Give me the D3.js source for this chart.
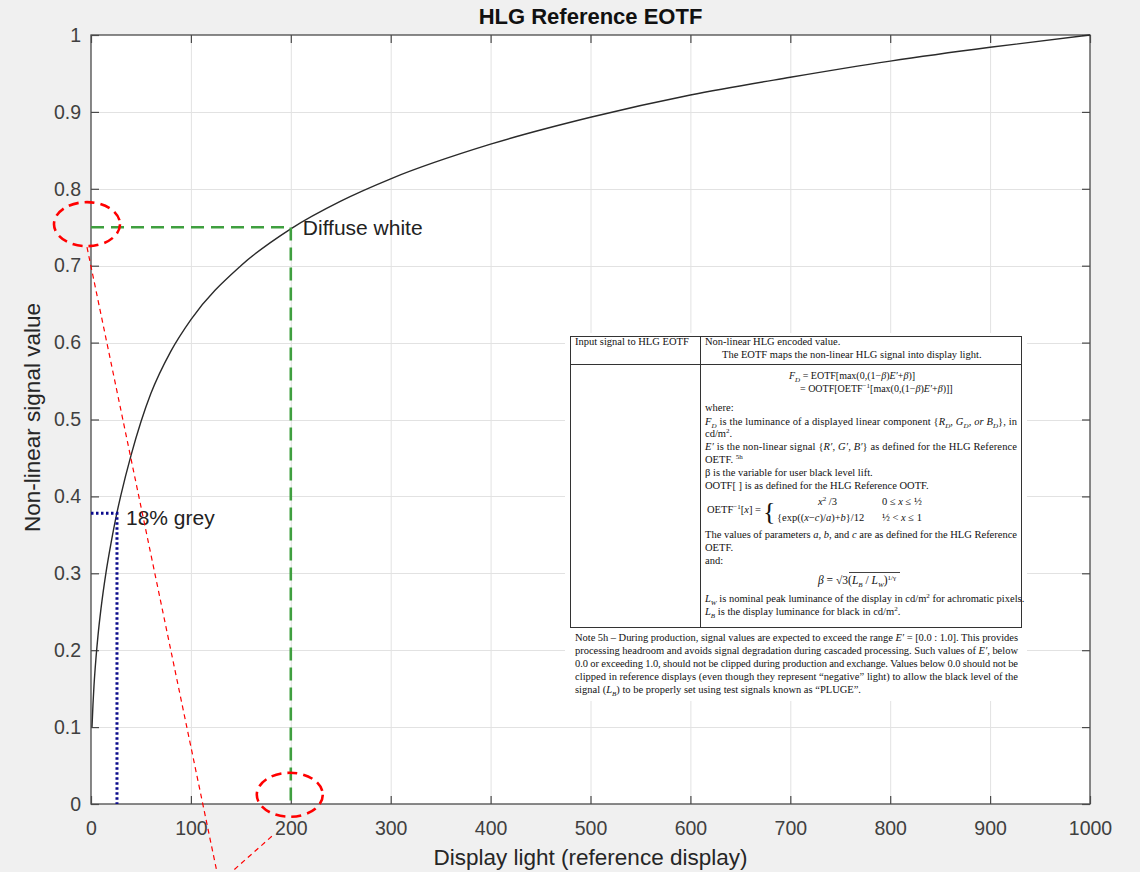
<!DOCTYPE html>
<html>
<head>
<meta charset="utf-8">
<script src="https://cdn.jsdelivr.net/npm/d3@7/dist/d3.min.js"></script>
<style>
  body { margin: 0; background: #f0f0f0; }
  svg { display: block; }
</style>
</head>
<body>
<div id="chart"></div>
<script>
// HLG signal vs display light
const lightNits = [1, 2, 3, 5, 7, 10, 15, 20, 26, 30, 40, 50, 60, 80, 100, 150, 200, 250, 300, 400, 500, 600, 700, 800, 900, 1000];
const signal = [0.10, 0.13, 0.154, 0.19, 0.219, 0.254, 0.301, 0.339, 0.379, 0.402, 0.453, 0.497, 0.534, 0.589, 0.630, 0.700, 0.748, 0.784, 0.813, 0.858, 0.893, 0.922, 0.945, 0.966, 0.984, 1.0];

const xTicks = [0, 100, 200, 300, 400, 500, 600, 700, 800, 900, 1000];
const yTicks = [0, 0.1, 0.2, 0.3, 0.4, 0.5, 0.6, 0.7, 0.8, 0.9, 1];
const yTickLabels = ['0', '0.1', '0.2', '0.3', '0.4', '0.5', '0.6', '0.7', '0.8', '0.9', '1'];

// reference points
const diffuseWhite = [200, 0.75];
const grey18 = [26, 0.378];

// red callouts (data coords) and their leader lines
const callouts = [[-4, 0.754], [199, 0.012]];
const leaders = [[[-4, 0.724], [126, -0.088]], [[181, -0.042], [141, -0.088]]];

const W = 1140, H = 872;
const x = d3.scaleLinear().domain([0, 1000]).range([91, 1090]);
const y = d3.scaleLinear().domain([0, 1]).range([804, 35]);

const svg = d3.select('#chart').append('svg')
  .attr('width', W).attr('height', H)
  .style('font-family', '"Liberation Sans", Arial, sans-serif');

svg.append('rect').attr('width', W).attr('height', H).attr('fill', '#f0f0f0');
svg.append('rect')
  .attr('x', x(0)).attr('y', y(1))
  .attr('width', x(1000) - x(0)).attr('height', y(0) - y(1))
  .attr('fill', '#fff');

// grid
const grid = svg.append('g').attr('stroke', '#e2e2e2').attr('stroke-width', 1);
grid.selectAll('.gx').data(xTicks.slice(1, -1)).join('line')
  .attr('x1', d => x(d) + 0.5).attr('x2', d => x(d) + 0.5)
  .attr('y1', y(1)).attr('y2', y(0));
grid.selectAll('.gy').data(yTicks.slice(1, -1)).join('line')
  .attr('y1', d => Math.round(y(d)) + 0.5).attr('y2', d => Math.round(y(d)) + 0.5)
  .attr('x1', x(0)).attr('x2', x(1000));

// axes, ticks inward
const tickCol = '#404040';
function styleAxis(g) {
  g.select('.domain').remove();
  g.selectAll('.tick line').attr('stroke', '#4a4a4a').attr('stroke-width', 1.2);
  g.selectAll('.tick text').attr('fill', tickCol).style('font-size', '19.5px')
    .style('font-family', '"Liberation Sans", Arial, sans-serif');
}
svg.append('g').attr('transform', `translate(0,${y(0)})`)
  .call(d3.axisBottom(x).tickValues(xTicks).tickSize(-8).tickPadding(17).tickFormat(d3.format('d')))
  .call(styleAxis);
svg.append('g').attr('transform', `translate(0,${y(1)})`)
  .call(d3.axisTop(x).tickValues(xTicks).tickSize(-8).tickFormat(''))
  .call(styleAxis);
svg.append('g').attr('transform', `translate(${x(0)},0)`)
  .call(d3.axisLeft(y).tickValues(yTicks).tickSize(-8).tickPadding(10).tickFormat((d, i) => yTickLabels[i]))
  .call(styleAxis);
svg.append('g').attr('transform', `translate(${x(1000)},0)`)
  .call(d3.axisRight(y).tickValues(yTicks).tickSize(-8).tickFormat(''))
  .call(styleAxis);

svg.append('rect')
  .attr('x', x(0)).attr('y', y(1))
  .attr('width', x(1000) - x(0)).attr('height', y(0) - y(1))
  .attr('fill', 'none').attr('stroke', '#4a4a4a').attr('stroke-width', 1.3);

// the curve
const pts = lightNits.map((v, i) => [v, signal[i]]);
svg.append('path')
  .datum(pts)
  .attr('fill', 'none').attr('stroke', '#2a2a2a').attr('stroke-width', 1.4)
  .attr('d', d3.line().x(d => x(d[0])).y(d => y(d[1])).curve(d3.curveMonotoneX));

// diffuse white guide
svg.append('path')
  .attr('d', `M${x(0)},${y(diffuseWhite[1])}H${x(diffuseWhite[0])}V${y(0)}`)
  .attr('fill', 'none').attr('stroke', '#3f9f3f').attr('stroke-width', 2.6)
  .attr('stroke-dasharray', '13,7');
svg.append('text').attr('x', x(diffuseWhite[0]) + 12).attr('y', y(diffuseWhite[1]) + 8)
  .attr('fill', '#222').style('font-size', '21px').text('Diffuse white');

// 18% grey guide
svg.append('path')
  .attr('d', `M${x(0)},${y(grey18[1])}H${x(grey18[0])}V${y(0)}`)
  .attr('fill', 'none').attr('stroke', '#0a0a8c').attr('stroke-width', 3)
  .attr('stroke-dasharray', '2.5,2.5');
svg.append('text').attr('x', x(grey18[0]) + 9).attr('y', y(grey18[1]) + 12)
  .attr('fill', '#222').style('font-size', '21px').text('18% grey');

// inset: table from the spec
const inset = svg.append('g').style('font-family', '"Liberation Serif", "Times New Roman", serif')
  .style('font-size', '10.5px').attr('fill', '#111');
inset.append('rect').attr('x', 565).attr('y', 333).attr('width', 462).attr('height', 368).attr('fill', '#fff');
const tbl = inset.append('g').attr('stroke', '#333').attr('stroke-width', 1).attr('fill', 'none');
tbl.append('rect').attr('x', 570.5).attr('y', 336.5).attr('width', 451).attr('height', 291);
tbl.append('line').attr('x1', 570.5).attr('x2', 1021.5).attr('y1', 364.5).attr('y2', 364.5);
tbl.append('line').attr('x1', 700.5).attr('x2', 700.5).attr('y1', 336.5).attr('y2', 627.5);

// rich text: segments [string, kind]; kinds: i italic, sub, sup, isub
function rich(x0, yb, segs, opts = {}) {
  const t = inset.append('text').attr('x', x0).attr('y', yb);
  if (opts.anchor) t.attr('text-anchor', opts.anchor);
  if (opts.size) t.style('font-size', opts.size);
  let off = 0;
  segs.forEach(s => {
    const str = typeof s === 'string' ? s : s[0];
    const kind = typeof s === 'string' ? '' : s[1];
    const ts = t.append('tspan').text(str);
    let target = 0;
    if (kind === 'sub' || kind === 'isub') target = 2.5;
    if (kind === 'sup') target = -4;
    if (target !== off) { ts.attr('dy', target - off); off = target; }
    if (kind === 'i' || kind === 'isub') ts.style('font-style', 'italic');
    if (kind === 'sub' || kind === 'isub' || kind === 'sup') ts.style('font-size', '7px');
  });
  if (opts.width) t.attr('textLength', opts.width).attr('lengthAdjust', 'spacing');
  return t;
}

rich(575, 345, ['Input signal to HLG EOTF']);
rich(705, 345, ['Non-linear HLG encoded value.']);
rich(722, 358, ['The EOTF maps the non-linear HLG signal into display light.']);
rich(789, 379, [['F', 'i'], ['D', 'isub'], ' = EOTF[max(0,(1\u2212', ['\u03B2', 'i'], ')', ['E\u2032', 'i'], '+', ['\u03B2', 'i'], ')]'], { size: '10px' });
rich(800, 392, ['= OOTF[OETF', ['\u22121', 'sup'], '[max(0,(1\u2212', ['\u03B2', 'i'], ')', ['E\u2032', 'i'], '+', ['\u03B2', 'i'], ')]]'], { size: '10px' });
rich(705, 411, ['where:']);
rich(705, 425, [['F', 'i'], ['D', 'isub'], ' is the luminance of a displayed linear component {', ['R', 'i'], ['D', 'isub'], ', ', ['G', 'i'], ['D', 'isub'], ', ', ['or B', 'i'], ['D', 'isub'], '}, in'], { width: 312 });
rich(705, 437, ['cd/m', ['2', 'sup'], '.']);
rich(705, 450, [['E\u2032', 'i'], ' is the non-linear signal {', ['R\u2032, G\u2032, B\u2032', 'i'], '} as defined for the HLG Reference'], { width: 312 });
rich(705, 463, ['OETF.  ', ['5h', 'sup']]);
rich(705, 476, ['\u03B2 is the variable for user black level lift.']);
rich(705, 489, ['OOTF[ ] is as defined for the HLG Reference OOTF.']);
rich(707, 513, ['OETF', ['\u22121', 'sup'], '[', ['x', 'i'], '] =']);
inset.append('text').attr('x', 763).attr('y', 520).style('font-size', '26px').style('font-weight', 300).text('{');
rich(818, 505, [['x', 'i'], ['2', 'sup'], ' /3']);
rich(882, 505, ['0 \u2264 ', ['x', 'i'], ' \u2264 \u00BD']);
rich(777, 521, ['{exp((', ['x', 'i'], '\u2212', ['c', 'i'], ')/', ['a', 'i'], ')+', ['b', 'i'], '}/12']);
rich(882, 521, ['\u00BD < ', ['x', 'i'], ' \u2264 1']);
rich(705, 538, ['The values of parameters ', ['a', 'i'], ', ', ['b', 'i'], ', and ', ['c', 'i'], ' are as defined for the HLG Reference'], { width: 312 });
rich(705, 551, ['OETF.']);
rich(705, 564, ['and:']);
rich(818, 584, [['\u03B2', 'i'], ' = \u221A3(', ['L', 'i'], ['B', 'isub'], ' / ', ['L', 'i'], ['W', 'isub'], ')', ['1/\u03B3', 'sup']], { size: '11.5px' });
inset.append('line').attr('x1', 849).attr('x2', 900).attr('y1', 572.5).attr('y2', 572.5)
  .attr('stroke', '#111').attr('stroke-width', 0.8);
rich(705, 602, [['L', 'i'], ['W', 'isub'], ' is nominal peak luminance of the display in cd/m', ['2', 'sup'], ' for achromatic pixels.']);
rich(705, 615, [['L', 'i'], ['B', 'isub'], ' is the display luminance for black in cd/m', ['2', 'sup'], '.']);

rich(575, 641, ['Note 5h \u2013 During production, signal values are expected to exceed the range ', ['E\u2032', 'i'], ' = [0.0 : 1.0]. This provides'], { width: 443 });
rich(575, 654, ['processing headroom and avoids signal degradation during cascaded processing. Such values of ', ['E\u2032', 'i'], ', below'], { width: 443 });
rich(575, 667, ['0.0 or exceeding 1.0, should not be clipped during production and exchange. Values below 0.0 should not be'], { width: 443 });
rich(575, 680, ['clipped in reference displays (even though they represent \u201Cnegative\u201D light) to allow the black level of the'], { width: 443 });
rich(575, 693, ['signal (', ['L', 'i'], ['B', 'isub'], ') to be properly set using test signals known as \u201CPLUGE\u201D.']);

// red callouts
const red = svg.append('g').attr('fill', 'none').attr('stroke', '#f00');
red.selectAll('ellipse').data(callouts).join('ellipse')
  .attr('cx', d => x(d[0])).attr('cy', d => y(d[1]))
  .attr('rx', 33).attr('ry', 22)
  .attr('stroke-width', 2.6).attr('stroke-dasharray', '10,6');
red.selectAll('line').data(leaders).join('line')
  .attr('x1', d => x(d[0][0])).attr('y1', d => y(d[0][1]))
  .attr('x2', d => x(d[1][0])).attr('y2', d => y(d[1][1]))
  .attr('stroke-width', 1.2).attr('stroke-dasharray', '5,4');

// titles
svg.append('text').attr('x', x(500)).attr('y', 24).attr('text-anchor', 'middle')
  .style('font-size', '22px').style('font-weight', 'bold').attr('fill', '#111')
  .text('HLG Reference EOTF');
svg.append('text').attr('x', x(500)).attr('y', 865).attr('text-anchor', 'middle')
  .style('font-size', '22.5px').attr('fill', '#262626')
  .text('Display light (reference display)');
svg.append('text').attr('transform', `translate(40,${(y(0) + y(1)) / 2 - 2}) rotate(-90)`)
  .attr('text-anchor', 'middle')
  .style('font-size', '22.5px').attr('fill', '#262626')
  .text('Non-linear signal value');
</script>
</body>
</html>
